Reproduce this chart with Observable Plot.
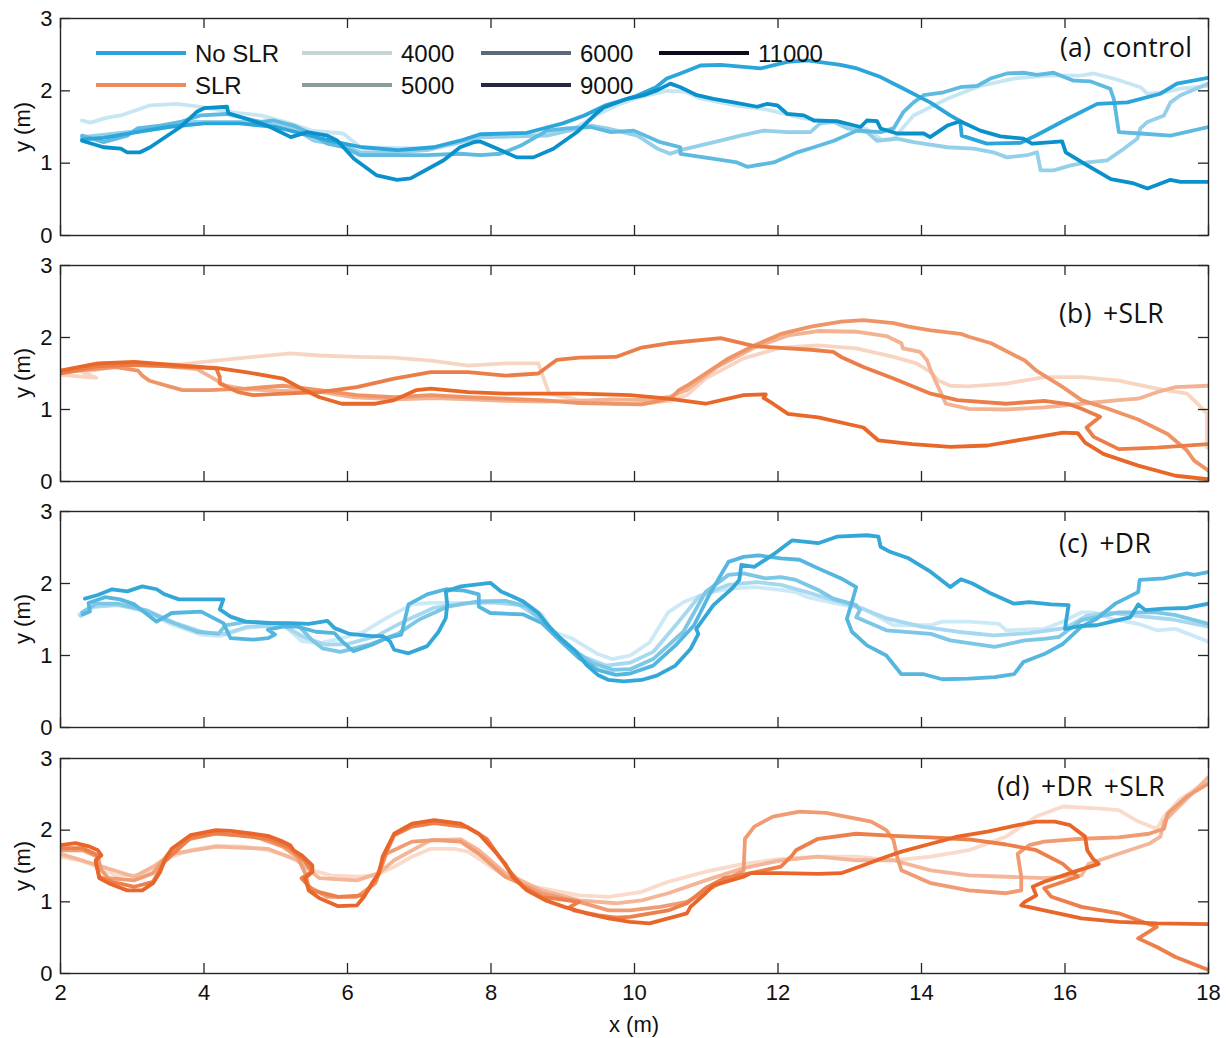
<!DOCTYPE html>
<html><head><meta charset="utf-8">
<script src="https://cdn.jsdelivr.net/npm/d3@7"></script>
<script src="https://cdn.jsdelivr.net/npm/@observablehq/plot@0.6"></script>
<style>
body{margin:0;background:#fff;}
#wrap{position:relative;width:1226px;height:1038px;font-family:"Liberation Sans",Arial,sans-serif;background:#fff;overflow:hidden;}
.pl{position:absolute;left:0;}
.plab{position:absolute;font-family:"Open Sans","Noto Sans",sans-serif;font-size:26.5px;color:#111;white-space:nowrap;line-height:1.2;transform:translateY(-50%);letter-spacing:0.3px;word-spacing:4px;}
.ylab{position:absolute;font-size:22px;color:#111;white-space:nowrap;line-height:1;transform:translate(-50%,-50%) rotate(-90deg);}
.xlab{position:absolute;font-size:22px;color:#111;white-space:nowrap;line-height:1;transform:translate(-50%,-50%);}
.leg{position:absolute;font-size:24px;line-height:1;white-space:nowrap;color:#111;transform:translateY(-50%);}
.sw{position:absolute;height:4px;width:90px;transform:translateY(-50%);}
</style></head><body><div id="wrap"></div>
<script>
// ---------- data ----------
const xTicks = [2,4,6,8,10,12,14,16,18];
const yTicks = [0,1,2,3];
const years = [4000,5000,6000,9000,11000];
const panelNames = ["(a) control","(b) +SLR","(c) +DR","(d) +DR +SLR"];
const scenarioNames = ["No SLR","SLR"];
const xLabel = "x (m)";
const yLabel = "y (m)";

// (a) control
const ctl4000 = [[2.30,1.59],[2.42,1.56],[2.65,1.63],[2.84,1.66],[3.25,1.80],[3.63,1.82],[4.0,1.77],[4.42,1.70],[4.79,1.66],[5.2,1.55],[5.5,1.45],[5.94,1.41],[6.18,1.22],[6.6,1.21],[7.11,1.20],[7.5,1.27],[7.85,1.36],[8.4,1.38],[8.9,1.42],[9.2,1.50],[9.5,1.68],[9.8,1.82],[10.1,1.92],[10.45,2.00],[10.7,1.99],[10.9,1.90],[11.4,1.80],[11.85,1.74],[12.36,1.62],[12.82,1.56],[13.24,1.47],[13.45,1.32],[13.6,1.33],[13.89,1.66],[14.36,1.89],[14.82,2.07],[15.29,2.17],[15.75,2.21],[16.22,2.21],[16.40,2.24],[16.68,2.17],[17.05,2.05],[17.15,1.96],[17.38,1.98],[17.61,2.03],[18.0,2.07]];
const ctl5000 = [[2.30,1.36],[2.93,1.43],[3.39,1.48],[3.86,1.57],[4.32,1.57],[4.79,1.57],[5.25,1.48],[5.53,1.31],[5.95,1.24],[6.18,1.15],[6.65,1.15],[7.11,1.18],[7.57,1.29],[7.85,1.36],[8.78,1.38],[9.39,1.52],[9.62,1.48],[10.04,1.38],[10.32,1.20],[10.50,1.13],[10.64,1.18],[11.11,1.29],[11.48,1.38],[11.80,1.45],[12.13,1.43],[12.45,1.43],[12.59,1.55],[12.78,1.57],[12.97,1.48],[13.24,1.43],[13.38,1.31],[13.66,1.34],[13.89,1.29],[14.36,1.22],[14.73,1.20],[15.0,1.15],[15.19,1.08],[15.47,1.11],[15.61,1.15],[15.66,0.90],[15.84,0.90],[16.08,0.97],[16.31,1.01],[16.59,1.04],[16.82,1.20],[17.01,1.34],[17.05,1.48],[17.15,1.57],[17.38,1.66],[17.47,1.84],[17.61,1.94],[18.0,2.10]];
const ctl6000 = [[2.30,1.38],[2.60,1.29],[2.93,1.38],[3.07,1.48],[3.39,1.52],[3.67,1.57],[3.95,1.66],[4.32,1.68],[4.79,1.57],[4.97,1.59],[5.25,1.52],[5.44,1.43],[5.72,1.27],[5.95,1.22],[6.18,1.11],[6.65,1.11],[7.11,1.11],[7.57,1.13],[7.85,1.11],[8.13,1.13],[8.41,1.24],[8.78,1.45],[9.06,1.48],[9.39,1.50],[9.67,1.43],[9.99,1.45],[10.36,1.29],[10.64,1.22],[10.64,1.13],[11.11,1.06],[11.43,1.01],[11.57,0.95],[11.94,1.01],[12.27,1.15],[12.50,1.22],[12.78,1.31],[13.10,1.45],[13.43,1.43],[13.61,1.48],[13.75,1.71],[13.89,1.84],[14.03,1.94],[14.31,1.98],[14.54,2.05],[14.78,2.07],[14.96,2.17],[15.19,2.24],[15.42,2.25],[15.61,2.22],[15.84,2.25],[16.12,2.14],[16.36,2.13],[16.63,2.03],[16.68,1.89],[16.75,1.43],[17.05,1.41],[17.47,1.38],[18.0,1.50]];
const ctl9000 = [[2.30,1.33],[2.6,1.35],[3.0,1.42],[3.5,1.50],[4.0,1.55],[4.5,1.55],[5.0,1.50],[5.4,1.40],[5.8,1.30],[6.2,1.22],[6.7,1.18],[7.2,1.22],[7.6,1.32],[7.85,1.40],[8.5,1.42],[9.0,1.55],[9.3,1.66],[9.6,1.80],[10.0,1.92],[10.3,2.05],[10.45,2.17],[10.64,2.24],[10.92,2.35],[11.20,2.36],[11.52,2.33],[11.76,2.31],[12.13,2.40],[12.41,2.42],[12.87,2.36],[13.10,2.31],[13.43,2.19],[13.71,2.05],[14.12,1.84],[14.40,1.66],[14.54,1.58],[14.56,1.38],[14.91,1.27],[15.38,1.28],[15.61,1.39],[16.03,1.61],[16.45,1.82],[16.87,1.84],[17.33,1.96],[17.56,2.10],[18.0,2.18]];
const ctl11000 = [[2.30,1.31],[2.60,1.22],[2.84,1.20],[2.93,1.15],[3.11,1.15],[3.25,1.22],[3.67,1.50],[3.90,1.71],[4.00,1.76],[4.32,1.78],[4.34,1.69],[4.60,1.61],[4.88,1.52],[5.21,1.36],[5.44,1.43],[5.72,1.38],[5.86,1.31],[6.09,1.06],[6.41,0.83],[6.69,0.77],[6.88,0.79],[7.34,1.04],[7.57,1.22],[7.76,1.29],[7.85,1.30],[8.04,1.22],[8.36,1.08],[8.59,1.08],[8.87,1.20],[9.20,1.43],[9.46,1.68],[9.57,1.77],[9.90,1.89],[10.13,1.94],[10.32,2.01],[10.50,2.10],[10.64,2.05],[10.87,1.94],[11.10,1.89],[11.38,1.84],[11.71,1.78],[11.85,1.82],[11.99,1.80],[12.13,1.68],[12.36,1.66],[12.50,1.59],[12.82,1.58],[13.15,1.50],[13.24,1.59],[13.38,1.58],[13.43,1.48],[13.66,1.41],[14.03,1.41],[14.12,1.36],[14.36,1.52],[14.54,1.58],[14.82,1.45],[15.10,1.37],[15.42,1.34],[15.54,1.27],[15.96,1.30],[16.01,1.15],[16.31,0.97],[16.64,0.78],[16.96,0.72],[17.15,0.65],[17.47,0.77],[17.61,0.74],[18.0,0.74]];

// (b) +SLR
const slr4000 = [[2.0,1.48],[2.5,1.44],[2.3,1.52],[2.8,1.60],[3.3,1.62],[3.70,1.63],[4.17,1.68],[4.68,1.73],[5.20,1.78],[5.61,1.75],[6.13,1.73],[6.65,1.72],[7.16,1.68],[7.68,1.61],[8.20,1.64],[8.66,1.64],[8.76,1.36],[8.81,1.22],[9.23,1.13],[9.74,1.08],[10.10,1.08],[10.5,1.12],[10.73,1.20],[10.99,1.43],[11.52,1.71],[12.04,1.86],[12.56,1.89],[13.09,1.85],[13.61,1.73],[13.93,1.64],[14.13,1.52],[14.24,1.40],[14.40,1.33],[14.66,1.32],[15.18,1.36],[15.71,1.45],[16.23,1.45],[16.75,1.40],[17.28,1.29],[17.70,1.22],[17.85,1.08],[17.98,0.94],[17.98,0.47]];
const slr5000 = [[2.0,1.50],[2.5,1.58],[3.0,1.62],[3.5,1.60],[3.9,1.56],[4.1,1.45],[4.3,1.33],[4.6,1.28],[5.1,1.26],[5.6,1.25],[6.1,1.17],[6.7,1.14],[7.2,1.16],[7.7,1.14],[8.2,1.12],[8.7,1.11],[9.2,1.12],[9.7,1.14],[10.2,1.13],[10.5,1.18],[10.73,1.27],[11.15,1.59],[11.67,1.86],[12.14,2.03],[12.56,2.09],[13.09,2.08],[13.51,2.02],[13.72,1.92],[13.74,1.85],[13.98,1.80],[14.08,1.68],[14.13,1.54],[14.21,1.36],[14.34,1.08],[14.66,1.01],[15.18,1.00],[15.71,1.03],[16.23,1.08],[16.75,1.13],[17.02,1.15],[17.28,1.24],[17.54,1.31],[18.0,1.33]];
const slr6000 = [[2.0,1.52],[2.77,1.59],[3.08,1.54],[3.14,1.47],[3.24,1.40],[3.55,1.31],[3.70,1.27],[4.07,1.27],[4.58,1.29],[5.10,1.33],[5.61,1.27],[6.13,1.20],[6.65,1.17],[7.16,1.20],[7.68,1.17],[8.20,1.15],[8.71,1.13],[9.23,1.09],[10.10,1.07],[10.5,1.15],[10.62,1.27],[10.73,1.33],[10.99,1.50],[11.31,1.71],[11.67,1.89],[12.04,2.05],[12.46,2.15],[12.88,2.22],[13.19,2.24],[13.61,2.20],[13.82,2.15],[14.13,2.10],[14.55,2.05],[14.66,2.01],[14.97,1.92],[15.44,1.68],[15.60,1.54],[15.97,1.31],[16.23,1.13],[16.60,1.01],[17.02,0.86],[17.43,0.66],[17.70,0.43],[17.80,0.29],[18.0,0.15]];
const slr9000 = [[2.0,1.50],[2.5,1.60],[3.0,1.62],[3.81,1.59],[4.17,1.57],[4.22,1.45],[4.22,1.36],[4.48,1.24],[4.68,1.20],[5.10,1.22],[5.61,1.24],[6.13,1.31],[6.65,1.43],[7.16,1.52],[7.68,1.52],[8.20,1.47],[8.66,1.50],[8.81,1.61],[8.92,1.69],[9.23,1.72],[9.74,1.73],[10.10,1.86],[10.47,1.92],[11.2,1.99],[11.67,1.88],[12.14,1.85],[12.46,1.83],[12.77,1.80],[12.88,1.73],[13.19,1.59],[13.61,1.43],[14.13,1.22],[14.50,1.13],[15.18,1.08],[15.71,1.12],[16.07,1.07],[16.23,1.01],[16.49,0.90],[16.3,0.75],[16.4,0.62],[16.75,0.45],[17.28,0.47],[18.0,0.52]];
const slr11000 = [[2.0,1.54],[2.52,1.64],[3.03,1.66],[3.70,1.61],[4.22,1.57],[4.58,1.52],[5.10,1.43],[5.36,1.29],[5.61,1.17],[5.92,1.08],[6.39,1.08],[6.65,1.13],[6.96,1.27],[7.16,1.29],[7.68,1.24],[8.20,1.22],[8.71,1.22],[9.23,1.22],[9.94,1.20],[10.47,1.15],[10.99,1.08],[11.52,1.20],[11.83,1.21],[11.80,1.16],[11.93,1.08],[12.14,0.94],[12.56,0.89],[13.19,0.75],[13.40,0.57],[13.87,0.52],[14.40,0.48],[14.92,0.50],[15.44,0.59],[15.97,0.68],[16.18,0.67],[16.28,0.54],[16.54,0.38],[17.02,0.22],[17.54,0.08],[18.0,0.03]];

// (c) +DR
const dr4000 = [[2.26,1.57],[2.41,1.66],[2.77,1.71],[3.19,1.61],[3.55,1.43],[3.96,1.29],[4.22,1.27],[4.58,1.38],[5.10,1.43],[5.36,1.20],[5.61,1.17],[5.92,1.24],[6.23,1.33],[6.54,1.52],[6.90,1.71],[7.16,1.73],[7.68,1.73],[8.20,1.73],[8.51,1.71],[8.71,1.57],[8.87,1.33],[9.12,1.24],[9.49,1.02],[9.69,0.95],[9.94,1.0],[10.21,1.18],[10.47,1.60],[10.68,1.74],[10.99,1.86],[11.31,1.93],[11.67,1.95],[12.04,1.91],[12.25,1.88],[12.41,1.81],[12.82,1.72],[13.19,1.65],[13.61,1.42],[14.13,1.42],[14.29,1.47],[14.66,1.47],[15.08,1.44],[15.18,1.35],[15.71,1.37],[15.97,1.47],[16.23,1.60],[16.39,1.60],[16.65,1.51],[17.02,1.44],[17.28,1.35],[17.54,1.37],[18.0,1.19]];
const dr5000 = [[2.28,1.55],[2.45,1.68],[2.8,1.70],[3.2,1.63],[3.6,1.45],[4.0,1.32],[4.3,1.30],[4.6,1.40],[5.1,1.42],[5.4,1.25],[5.7,1.15],[6.0,1.16],[6.4,1.27],[6.8,1.48],[7.2,1.66],[7.6,1.72],[8.0,1.74],[8.4,1.70],[8.7,1.50],[9.0,1.18],[9.3,0.98],[9.6,0.86],[9.94,0.90],[10.26,1.05],[10.6,1.45],[10.9,1.82],[11.3,1.98],[11.7,2.02],[12.04,1.98],[12.4,1.88],[12.8,1.76],[13.1,1.68],[13.5,1.52],[14.0,1.40],[14.5,1.33],[15.0,1.28],[15.5,1.31],[16.0,1.38],[16.3,1.55],[16.6,1.60],[17.0,1.55],[17.5,1.50],[18.0,1.40]];
const dr6000 = [[2.30,1.60],[2.5,1.72],[2.8,1.72],[3.2,1.62],[3.5,1.48],[3.9,1.33],[4.2,1.30],[4.3,1.42],[4.6,1.47],[5.0,1.45],[5.3,1.43],[5.5,1.22],[5.65,1.10],[5.9,1.05],[6.3,1.15],[6.7,1.30],[7.0,1.50],[7.4,1.68],[7.8,1.75],[8.2,1.76],[8.5,1.68],[8.8,1.40],[9.1,1.10],[9.4,0.90],[9.7,0.80],[9.94,0.81],[10.26,0.95],[10.68,1.33],[10.99,1.88],[11.31,2.12],[11.52,2.14],[11.83,2.07],[12.04,2.09],[12.25,2.05],[12.56,1.91],[12.77,1.79],[13.09,1.70],[13.14,1.63],[13.09,1.53],[13.51,1.35],[14.13,1.30],[14.40,1.21],[15.02,1.12],[15.44,1.21],[15.71,1.23],[15.92,1.26],[16.23,1.49],[16.75,1.60],[17.28,1.60],[17.54,1.56],[18.0,1.44]];
const dr9000 = [[2.31,1.57],[2.41,1.61],[2.39,1.73],[2.62,1.81],[2.83,1.78],[3.03,1.71],[3.34,1.47],[3.55,1.59],[3.96,1.61],[4.27,1.45],[4.37,1.24],[4.68,1.22],[4.89,1.24],[4.99,1.29],[4.89,1.36],[5.10,1.40],[5.30,1.40],[5.56,1.33],[5.82,1.31],[5.92,1.20],[6.08,1.06],[6.34,1.15],[6.54,1.24],[6.75,1.29],[6.85,1.71],[7.11,1.85],[7.37,1.92],[7.63,1.90],[7.83,1.85],[7.83,1.68],[7.99,1.59],[8.45,1.57],[8.71,1.45],[8.97,1.20],[9.23,0.96],[9.49,0.80],[9.74,0.73],[9.94,0.75],[10.26,0.86],[10.57,1.14],[10.83,1.42],[11.04,1.84],[11.31,2.30],[11.52,2.37],[11.73,2.39],[12.04,2.35],[12.30,2.33],[12.56,2.21],[12.88,2.07],[13.09,1.95],[13.03,1.74],[12.96,1.51],[13.03,1.33],[13.24,1.14],[13.51,1.00],[13.72,0.74],[14.03,0.74],[14.29,0.67],[14.66,0.68],[15.02,0.70],[15.29,0.74],[15.42,0.91],[15.71,1.02],[15.97,1.16],[16.23,1.40],[16.44,1.51],[16.70,1.72],[17.02,1.88],[17.04,2.05],[17.38,2.07],[17.70,2.14],[17.80,2.12],[18.0,2.16]];
const dr11000 = [[2.34,1.79],[2.52,1.84],[2.72,1.92],[2.93,1.89],[3.14,1.96],[3.34,1.92],[3.45,1.85],[3.65,1.78],[4.27,1.78],[4.22,1.64],[4.37,1.54],[4.58,1.47],[4.89,1.45],[5.20,1.45],[5.46,1.44],[5.72,1.48],[5.82,1.38],[6.03,1.30],[6.34,1.27],[6.49,1.27],[6.59,1.20],[6.65,1.08],[6.85,1.03],[7.11,1.13],[7.27,1.33],[7.37,1.52],[7.39,1.71],[7.37,1.89],[7.58,1.96],[7.99,2.01],[8.14,1.89],[8.30,1.82],[8.45,1.75],[8.66,1.59],[8.81,1.40],[8.97,1.24],[9.18,1.06],[9.33,0.87],[9.49,0.73],[9.64,0.66],[9.85,0.64],[10.10,0.66],[10.31,0.72],[10.57,0.86],[10.78,1.09],[10.89,1.30],[10.86,1.37],[11.10,1.70],[11.36,1.93],[11.46,2.05],[11.49,2.26],[11.67,2.23],[11.93,2.40],[12.20,2.60],[12.56,2.56],[12.82,2.65],[13.24,2.67],[13.40,2.65],[13.43,2.51],[13.56,2.44],[13.82,2.35],[14.13,2.16],[14.40,1.95],[14.55,2.06],[14.71,2.00],[14.97,1.86],[15.29,1.72],[15.50,1.74],[15.81,1.71],[16.05,1.70],[16.02,1.51],[16.00,1.37],[16.23,1.41],[16.44,1.42],[16.65,1.47],[16.91,1.53],[17.02,1.71],[17.12,1.63],[17.38,1.65],[17.70,1.66],[18.0,1.72]];

// (d) +DR +SLR
const drslr4000 = [[2.0,1.63],[2.26,1.58],[2.52,1.49],[2.77,1.37],[3.14,1.37],[3.34,1.49],[3.55,1.63],[3.81,1.72],[4.17,1.78],[4.58,1.77],[4.89,1.72],[5.20,1.63],[5.51,1.44],[5.77,1.37],[6.13,1.35],[6.39,1.37],[6.65,1.49],[6.90,1.63],[7.16,1.74],[7.48,1.74],[7.68,1.70],[7.94,1.53],[8.20,1.35],[8.50,1.23],[8.97,1.14],[9.23,1.09],[9.64,1.07],[10.10,1.14],[10.47,1.28],[10.99,1.42],[11.52,1.53],[12.04,1.60],[12.56,1.63],[13.09,1.63],[13.61,1.58],[14.13,1.63],[14.66,1.72],[15.18,1.91],[15.60,2.19],[15.97,2.33],[16.49,2.30],[16.75,2.28],[17.02,2.12],[17.28,2.02],[17.38,2.19],[17.59,2.42],[18.0,2.70]];
const drslr5000 = [[2.0,1.67],[2.52,1.51],[3.03,1.35],[3.29,1.49],[3.55,1.67],[4.17,1.77],[4.89,1.74],[5.30,1.58],[5.61,1.33],[6.13,1.30],[6.44,1.40],[6.65,1.58],[7.16,1.86],[7.58,1.87],[7.83,1.72],[8.20,1.40],[8.71,1.16],[9.23,1.02],[9.74,0.98],[10.10,1.02],[10.47,1.12],[10.99,1.30],[11.52,1.47],[12.04,1.58],[12.56,1.63],[13.09,1.58],[13.61,1.58],[14.13,1.44],[14.66,1.37],[15.18,1.35],[15.71,1.33],[16.23,1.37],[16.33,1.53],[16.75,1.67],[17.17,1.81],[17.33,1.91],[17.38,2.12],[17.59,2.33],[18.0,2.74]];
const drslr6000 = [[2.0,1.72],[2.31,1.72],[2.52,1.63],[2.57,1.44],[2.67,1.33],[3.03,1.30],[3.29,1.40],[3.50,1.67],[3.81,1.88],[4.17,1.95],[4.68,1.92],[5.10,1.77],[5.30,1.63],[5.41,1.40],[5.46,1.21],[5.72,1.07],[6.13,1.07],[6.39,1.26],[6.54,1.67],[6.90,1.84],[7.21,1.86],[7.58,1.84],[7.83,1.67],[8.20,1.35],[8.71,1.12],[9.23,1.00],[9.64,0.88],[9.94,0.88],[10.36,0.93],[10.73,1.0],[11.10,1.21],[11.52,1.44],[11.54,1.88],[11.67,2.05],[11.93,2.19],[12.30,2.26],[12.67,2.24],[13.09,2.16],[13.30,2.12],[13.51,2.0],[13.61,1.86],[13.66,1.63],[13.72,1.44],[14.13,1.26],[14.66,1.16],[15.18,1.12],[15.39,1.16],[15.39,1.35],[15.34,1.67],[15.50,1.79],[15.71,1.84],[16.23,1.88],[16.75,1.90],[17.17,1.95],[17.38,2.02],[17.43,2.23],[17.70,2.47],[18.0,2.65]];
const drslr9000 = [[2.0,1.75],[2.3,1.75],[2.52,1.65],[2.49,1.54],[2.54,1.35],[2.72,1.28],[3.03,1.21],[3.29,1.28],[3.45,1.56],[3.81,1.89],[4.17,1.96],[4.89,1.88],[5.20,1.75],[5.41,1.56],[5.51,1.42],[5.36,1.33],[5.51,1.16],[5.87,1.07],[6.23,1.09],[6.39,1.30],[6.49,1.58],[6.65,1.93],[6.90,2.05],[7.21,2.10],[7.68,2.04],[7.94,1.88],[8.25,1.44],[8.45,1.21],[8.71,1.07],[9.23,1.0],[9.1,0.93],[9.15,0.88],[9.5,0.81],[9.74,0.78],[9.94,0.79],[10.47,0.88],[10.73,0.98],[10.99,1.19],[11.25,1.33],[11.62,1.40],[12.04,1.49],[12.20,1.65],[12.25,1.72],[12.56,1.88],[13.09,1.95],[13.61,1.92],[14.13,1.90],[14.66,1.87],[15.18,1.80],[15.60,1.72],[15.97,1.53],[16.07,1.44],[16.18,1.35],[15.71,1.19],[15.81,1.07],[16.23,0.93],[16.75,0.84],[17.28,0.65],[17.02,0.49],[17.28,0.37],[17.54,0.23],[18.0,0.05]];
const drslr11000 = [[2.0,1.79],[2.21,1.82],[2.41,1.77],[2.52,1.72],[2.57,1.65],[2.49,1.58],[2.52,1.44],[2.54,1.33],[2.67,1.26],[2.93,1.16],[3.14,1.16],[3.29,1.26],[3.39,1.42],[3.45,1.58],[3.55,1.74],[3.81,1.93],[4.17,2.0],[4.37,1.99],[4.68,1.95],[4.89,1.92],[5.10,1.84],[5.20,1.79],[5.25,1.72],[5.36,1.65],[5.51,1.51],[5.51,1.42],[5.41,1.33],[5.46,1.16],[5.61,1.05],[5.87,0.94],[6.13,0.95],[6.23,1.07],[6.34,1.26],[6.44,1.40],[6.49,1.63],[6.65,1.95],[6.90,2.09],[7.21,2.14],[7.58,2.09],[7.83,1.95],[8.04,1.72],[8.20,1.53],[8.30,1.35],[8.50,1.16],[8.76,1.02],[9.02,0.93],[9.33,0.84],[9.64,0.77],[9.94,0.72],[10.21,0.70],[10.47,0.77],[10.73,0.84],[10.78,0.93],[10.99,1.12],[11.10,1.23],[11.52,1.35],[11.62,1.40],[12.04,1.40],[12.56,1.39],[12.88,1.40],[13.19,1.51],[13.51,1.63],[13.72,1.70],[14.13,1.81],[14.50,1.91],[14.92,1.98],[15.34,2.07],[15.60,2.12],[15.86,2.12],[16.07,2.07],[16.28,1.91],[16.31,1.72],[16.39,1.60],[16.47,1.53],[16.07,1.40],[15.71,1.28],[15.55,1.21],[15.60,1.09],[15.44,1.00],[15.39,0.95],[15.71,0.88],[16.23,0.77],[16.75,0.72],[17.28,0.70],[18.0,0.69]];

// ---------- styles ----------
const blueA = ["#c6e6f4","#96cfea","#5fbae2","#2ca5db","#0a91cb"];
const blueC = ["#cce9f6","#a6d8ef","#7cc6e6","#55b6df","#33a7d8"];
const orangeB = ["#f8d5c3","#f3b291","#ef9466","#eb7e48","#e8682a"];
const orangeD = ["#f9dacb","#f4b698","#f09b72","#ec7f4a","#e8662a"];
const legendLineColors = {"No SLR":"#29a3d8","SLR":"#ef8a5c"};
const legendYearColors = ["#c5d4d4","#889e9e","#5c6a78","#252845","#0b0b1a"];

const panels = [
  {series:[ctl4000,ctl5000,ctl6000,ctl9000,ctl11000], colors:blueA, top:3, mt:15, ph:217, mb:15, lab:[1060,48]},
  {series:[slr4000,slr5000,slr6000,slr9000,slr11000], colors:orangeB, top:250, mt:15, ph:216, mb:15, lab:[1059,314]},
  {series:[dr4000,dr5000,dr6000,dr9000,dr11000], colors:blueC, top:496, mt:15, ph:216, mb:15, lab:[1059,544]},
  {series:[drslr4000,drslr5000,drslr6000,drslr9000,drslr11000], colors:orangeD, top:743, mt:15, ph:215, mb:65, lab:[997,787]},
];

const W = 1226, ML = 60, MR = 18, plotW = W - ML - MR;
const TICK = 10;
const wrap = document.getElementById("wrap");
const axisColor = "#262626";

panels.forEach((p, k) => {
  const last = k === panels.length - 1;
  const H = p.mt + p.ph + p.mb;
  const marks = [];
  p.series.forEach((s, i) => {
    marks.push(Plot.line(s, {x: d => d[0], y: d => d[1], stroke: p.colors[i], strokeWidth: 3.8,
      strokeLinejoin: "round", strokeLinecap: "round", clip: true}));
  });
  marks.push(Plot.tickX(xTicks, {x: d => d, insetBottom: p.ph - TICK, stroke: axisColor, strokeWidth: 1.3}));
  marks.push(Plot.tickX(xTicks, {x: d => d, insetTop: p.ph - TICK, stroke: axisColor, strokeWidth: 1.3}));
  marks.push(Plot.tickY(yTicks, {y: d => d, insetRight: plotW - TICK, stroke: axisColor, strokeWidth: 1.3}));
  marks.push(Plot.tickY(yTicks, {y: d => d, insetLeft: plotW - TICK, stroke: axisColor, strokeWidth: 1.3}));
  marks.push(Plot.frame({stroke: axisColor, strokeWidth: 1.4}));
  marks.push(Plot.axisY(yTicks, {tickSize: 0, tickPadding: 8, tickFormat: d3.format("d"), label: null, fill: "#111"}));
  if (last) marks.push(Plot.axisX(xTicks, {tickSize: 0, tickPadding: 11, tickFormat: d3.format("d"), label: null, fill: "#111"}));
  const svg = Plot.plot({
    width: W, height: H, marginLeft: ML, marginRight: MR, marginTop: p.mt, marginBottom: p.mb,
    x: {domain: [2, 18], axis: last ? undefined : null},
    y: {domain: [0, 3]},
    style: {fontFamily: "'Liberation Sans', Arial, sans-serif", fontSize: "22px", color: "#111", background: "transparent", overflow: "visible"},
    marks
  });
  svg.classList.add("pl");
  svg.style.top = p.top + "px";
  wrap.appendChild(svg);

  const lab = document.createElement("div");
  lab.className = "plab";
  lab.textContent = panelNames[k];
  lab.style.left = p.lab[0] + "px";
  lab.style.top = p.lab[1] + "px";
  wrap.appendChild(lab);

  const yl = document.createElement("div");
  yl.className = "ylab";
  yl.textContent = yLabel;
  yl.style.left = "23px";
  yl.style.top = (p.top + p.mt + p.ph / 2) + "px";
  wrap.appendChild(yl);
});

const xl = document.createElement("div");
xl.className = "xlab";
xl.textContent = xLabel;
xl.style.left = (ML + plotW / 2) + "px";
xl.style.top = "1025px";
wrap.appendChild(xl);

// legend (panel a)
const legendItems = [
  {name: scenarioNames[0], color: legendLineColors["No SLR"], x: 96, y: 53},
  {name: scenarioNames[1], color: legendLineColors["SLR"], x: 96, y: 85},
  {name: String(years[0]), color: legendYearColors[0], x: 302, y: 53},
  {name: String(years[1]), color: legendYearColors[1], x: 302, y: 85},
  {name: String(years[2]), color: legendYearColors[2], x: 481, y: 53},
  {name: String(years[3]), color: legendYearColors[3], x: 481, y: 85},
  {name: String(years[4]), color: legendYearColors[4], x: 659, y: 53},
];
legendItems.forEach(it => {
  const sw = document.createElement("div");
  sw.className = "sw";
  sw.style.left = it.x + "px";
  sw.style.top = it.y + "px";
  sw.style.background = it.color;
  wrap.appendChild(sw);
  const t = document.createElement("div");
  t.className = "leg";
  t.textContent = it.name;
  t.style.left = (it.x + 99) + "px";
  t.style.top = (it.y + 1) + "px";
  wrap.appendChild(t);
});
</script></body></html>
